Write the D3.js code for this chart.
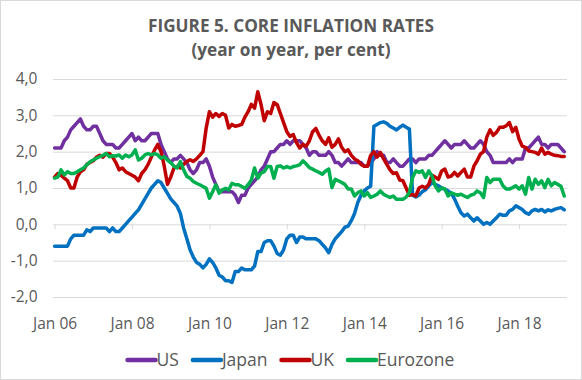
<!DOCTYPE html>
<html><head><meta charset="utf-8">
<script src="https://cdn.jsdelivr.net/npm/d3@7"></script>
<style>body{margin:0;background:#fff}svg{display:block}</style>
</head><body><svg id="c" width="582" height="380"></svg>
<script>
// ---- data (monthly, Jan 2006 – Mar 2019) ----
const months = d3.timeMonth.range(new Date(2006,0,1), new Date(2019,3,1)).map(d3.timeFormat("%Y-%m"));
const tickLabels = ["Jan 06","Jan 08","Jan 10","Jan 12","Jan 14","Jan 16","Jan 18"];
const tickMonths = ["2006-01","2008-01","2010-01","2012-01","2014-01","2016-01","2018-01"];
const yTicks = [-2,-1,0,1,2,3,4];
const seriesNames = ["US","Japan","UK","Eurozone"];

const us = [2.1,2.1,2.1,2.3,2.4,2.6,2.7,2.8,2.9,2.7,2.6,2.6,
2.7,2.7,2.5,2.3,2.2,2.2,2.2,2.1,2.1,2.2,2.3,2.4,
2.5,2.3,2.4,2.3,2.3,2.4,2.5,2.5,2.5,2.2,2.0,1.8,
1.7,1.8,1.8,1.9,1.8,1.7,1.5,1.4,1.5,1.7,1.7,1.8,
1.6,1.3,1.1,0.9,0.9,0.9,0.9,0.9,0.8,0.6,0.8,0.8,
1.0,1.1,1.2,1.3,1.5,1.6,1.8,2.0,2.0,2.1,2.2,2.2,
2.3,2.2,2.3,2.3,2.3,2.2,2.1,1.9,2.0,2.0,1.9,1.9,
1.9,2.0,1.9,1.7,1.7,1.6,1.7,1.8,1.7,1.7,1.7,1.7,
1.6,1.6,1.7,1.8,2.0,1.9,1.9,1.7,1.7,1.8,1.7,1.6,
1.6,1.7,1.8,1.8,1.7,1.8,1.8,1.8,1.9,1.9,2.0,2.1,
2.2,2.3,2.2,2.1,2.2,2.2,2.2,2.3,2.2,2.1,2.1,2.2,
2.3,2.2,2.0,1.9,1.7,1.7,1.7,1.7,1.7,1.8,1.7,1.8,
1.8,1.8,2.1,2.1,2.2,2.3,2.4,2.2,2.2,2.1,2.2,2.2,
2.2,2.1,2.0];

const japan = [-0.6,-0.6,-0.6,-0.6,-0.6,-0.4,-0.3,-0.3,-0.3,-0.3,-0.15,-0.2,
-0.1,-0.1,-0.1,-0.1,-0.1,-0.2,-0.1,-0.2,-0.2,-0.1,0.0,0.1,
0.2,0.3,0.4,0.55,0.7,0.85,1.0,1.1,1.2,1.15,1.0,0.85,
0.7,0.6,0.5,0.3,-0.1,-0.4,-0.7,-0.9,-1.05,-1.1,-1.2,-1.1,
-0.95,-1.05,-1.2,-1.4,-1.45,-1.55,-1.55,-1.6,-1.3,-1.3,-1.2,-1.25,
-1.25,-1.25,-1.15,-0.75,-0.75,-0.5,-0.45,-0.45,-0.6,-0.8,-0.85,-0.7,
-0.4,-0.3,-0.3,-0.5,-0.35,-0.35,-0.4,-0.4,-0.4,-0.4,-0.45,-0.55,
-0.65,-0.78,-0.55,-0.4,-0.3,-0.2,-0.08,-0.05,0.1,0.3,0.6,0.8,
0.92,1.0,1.05,2.7,2.75,2.8,2.82,2.78,2.7,2.65,2.6,2.67,
2.73,2.67,2.62,0.8,0.75,0.8,0.9,0.95,1.05,1.15,1.1,1.06,
1.0,0.97,0.92,0.85,0.7,0.5,0.32,0.23,0.28,0.18,0.09,0.18,
0.09,0.0,0.05,0.0,0.09,0.18,0.28,0.25,0.25,0.37,0.41,0.51,
0.46,0.41,0.32,0.28,0.37,0.41,0.37,0.41,0.34,0.4,0.37,0.41,
0.44,0.46,0.4];

const uk = [1.3,1.4,1.35,1.27,1.2,1.0,1.0,1.3,1.45,1.5,1.65,1.7,
1.75,1.85,1.9,1.85,1.95,1.95,1.85,1.7,1.5,1.55,1.45,1.4,
1.35,1.3,1.2,1.4,1.5,1.65,1.85,2.05,2.2,2.0,1.6,1.1,
1.3,1.55,1.6,1.55,1.65,1.73,1.78,1.73,1.8,1.9,2.0,2.65,
3.1,2.95,3.05,2.97,3.05,3.0,2.65,2.75,2.7,2.72,2.75,2.95,
3.1,3.3,3.2,3.65,3.3,2.85,3.1,3.05,3.35,3.3,3.05,2.8,
2.55,2.42,2.47,2.25,2.1,2.2,2.15,2.3,2.55,2.64,2.45,2.3,
2.2,2.38,2.12,2.2,2.35,2.12,2.0,2.05,1.9,1.8,1.75,1.65,
1.6,1.6,1.9,2.0,1.85,1.98,1.8,1.65,1.5,1.4,1.42,1.22,
1.2,1.0,0.8,0.82,0.78,1.0,1.05,1.0,1.1,1.35,1.3,1.24,
1.47,1.52,1.3,1.33,1.43,1.33,1.43,1.52,1.3,1.3,1.6,1.75,
1.93,2.0,2.4,2.6,2.45,2.53,2.67,2.67,2.71,2.8,2.55,2.67,
2.35,2.15,2.12,2.02,2.0,1.98,1.93,2.1,1.93,1.98,1.93,1.9,
1.89,1.87,1.87];

const eurozone = [1.27,1.3,1.5,1.36,1.45,1.4,1.4,1.45,1.5,1.55,1.64,1.72,
1.77,1.82,1.86,1.9,1.95,1.86,1.89,1.88,1.91,1.82,1.91,1.86,
1.91,2.05,1.77,1.82,1.91,1.95,1.91,1.95,1.91,1.82,1.86,1.77,
1.7,1.6,1.55,1.73,1.5,1.32,1.27,1.18,1.13,1.09,1.04,0.99,
0.72,0.9,1.09,0.86,0.95,0.99,0.95,1.13,1.09,1.09,1.04,0.99,
1.09,1.22,1.55,1.27,1.41,1.45,1.59,1.59,1.27,1.59,1.61,1.55,
1.59,1.55,1.59,1.61,1.64,1.75,1.66,1.56,1.52,1.47,1.43,1.38,
1.47,1.52,1.01,1.24,1.2,1.15,1.1,0.97,0.97,0.78,0.87,0.92,
0.78,0.87,0.74,0.78,0.83,0.92,0.83,0.78,0.74,0.78,0.69,0.69,
0.69,0.75,0.87,1.29,1.47,1.43,1.47,1.29,1.47,1.33,1.06,0.92,
1.0,0.97,0.78,0.87,0.83,0.8,0.83,0.78,0.74,0.8,0.83,0.92,
0.87,0.74,1.29,1.15,1.24,1.24,1.24,1.06,0.97,0.97,1.01,1.06,
0.97,1.06,0.83,1.29,0.97,1.24,1.1,1.2,1.01,1.24,1.06,1.15,
1.1,1.05,0.78];

const colors = ["#7030A0","#0070C0","#C00000","#00B050"];
const seriesValues = [us, japan, uk, eurozone];

// ---- drawing ----
const svg = d3.select("#c");
const W = 582, H = 380;
const plotL = 53, plotR = 567;
const textCol = "#595959", gridCol = "#d9d9d9";
const font = "'Open Sans', 'Noto Sans', sans-serif";

svg.append("rect").attr("x",0.5).attr("y",0.5).attr("width",W-1).attr("height",H-1)
  .attr("fill","#fff").attr("stroke",gridCol);

const x = d3.scalePoint().domain(months).range([54.6, 564.2]);
const y = d3.scaleLinear().domain([-2,4]).range([297, 79]);

// title
const title = svg.append("g").attr("font-family",font).attr("font-weight","bold")
  .attr("fill",textCol).attr("text-anchor","middle").attr("font-size","17.2px");
title.append("text").attr("x",291).attr("y",32).text("FIGURE 5. CORE INFLATION RATES");
title.append("text").attr("x",291).attr("y",56).text("(year on year, per cent)");

// y axis + gridlines
const loc = d3.formatLocale({decimal:",",thousands:".",grouping:[3],currency:["","€"],minus:"-"});
const fmt = loc.format(".1f");
const yAxis = svg.append("g").attr("transform",`translate(${plotL},0)`)
  .call(d3.axisLeft(y).tickValues(yTicks).tickFormat(fmt)
    .tickSizeInner(-(plotR-plotL)).tickSizeOuter(0).tickPadding(15.5));
yAxis.select(".domain").remove();
yAxis.selectAll(".tick line").attr("stroke",gridCol).attr("stroke-width",1);
yAxis.selectAll(".tick text").attr("fill",textCol).attr("font-family",font).attr("font-size","15.5px");

// x axis tick marks on zero line
const xTickAxis = svg.append("g").attr("transform",`translate(0,${y(0)})`)
  .call(d3.axisBottom(x).tickValues(tickMonths).tickFormat("").tickSizeInner(5).tickSizeOuter(0));
xTickAxis.select(".domain").remove();
xTickAxis.selectAll(".tick line").attr("stroke",gridCol);

// x labels
const xLab = svg.append("g").attr("transform",`translate(0,315)`)
  .call(d3.axisBottom(x).tickValues(tickMonths).tickFormat((d,i)=>tickLabels[i]).tickSize(0).tickPadding(0));
xLab.select(".domain").remove();
xLab.selectAll(".tick text").attr("fill",textCol).attr("font-family",font).attr("font-size","15.5px").attr("dy","0.9em");

// lines
const line = d3.line().x((d,i)=>x(months[i])).y(d=>y(d)).curve(d3.curveLinear);
seriesValues.forEach((vals,k)=>{
  svg.append("path").datum(vals).attr("d",line).attr("fill","none")
    .attr("stroke",colors[k]).attr("stroke-width",3.5)
    .attr("stroke-linejoin","round").attr("stroke-linecap","round");
});

// legend
const leg = svg.append("g").attr("font-family",font).attr("font-size","17.5px").attr("fill",textCol);
const lineLen = 28, gapLT = 1, gapItem = 14, legY = 360;
let items = seriesNames.map((n,k)=>{
  const g = leg.append("g");
  g.append("line").attr("x1",0).attr("x2",lineLen).attr("y1",legY).attr("y2",legY)
    .attr("stroke",colors[k]).attr("stroke-width",4.5).attr("stroke-linecap","round");
  const t = g.append("text").attr("x",lineLen+gapLT).attr("y",legY).attr("dy","0.36em").text(n);
  return {g, w: lineLen+gapLT+t.node().getComputedTextLength()};
});
const total = d3.sum(items,d=>d.w) + gapItem*(items.length-1);
let cx = 291 - total/2;
items.forEach(it=>{ it.g.attr("transform",`translate(${cx},0)`); cx += it.w + gapItem; });
</script></body></html>
